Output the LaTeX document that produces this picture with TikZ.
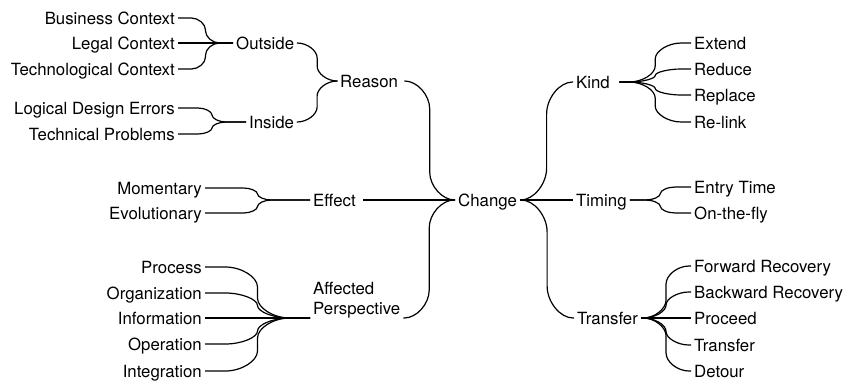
\documentclass[tikz,border=0pt]{standalone}
\usepackage{fontspec}
\setmainfont{TeX Gyre Heros}
\usetikzlibrary{calc}
\begin{document}
\begin{tikzpicture}[x=1pt,y=-1pt,
  every node/.style={font=\fontsize{16.8}{20}\selectfont, inner xsep=3pt, inner ysep=2pt,
                     text height=12pt, text depth=0pt},
  wide/.style={text width=#1, align=left},
  link/.style={line width=1.2pt, line join=round},
  % horizontal run, rounded bend of horizontal reach #1 and vertical reach #2,
  % vertical run through the middle, and back to horizontal
  branch/.style 2 args={to path={
    let \p1=(\tikztostart), \p2=(\tikztotarget),
        \n1={((\x1)+(\x2))/2},
        \n2={#1pt},
        \n3={max(-#2pt,min(#2pt,((\y2)-(\y1))/2))}
    in -- ({\n1-\n2},\y1)
       .. controls ({\n1-0.5*\n2},\y1) and (\n1,{\y1+0.5*\n3}) .. (\n1,{\y1+\n3})
       -- (\n1,{\y2-\n3})
       .. controls (\n1,{\y2-0.5*\n3}) and ({\n1+0.5*\n2},\y2) .. ({\n1+\n2},\y2)
       -- (\tikztotarget) \tikztonodes}}
]
\useasboundingbox (0,0) rectangle (846,381);

% ---- centre ----
\node[anchor=west] (change) at (455,200) {Change};

% ---- left: reason ----
\node[anchor=west, wide=61pt] (reason) at (337,81) {Reason};
\node[anchor=west] (outside) at (233,43) {Outside};
\node[anchor=west] (inside) at (246,122) {Inside};
\node[anchor=east] (bc) at (178,18) {Business Context};
\node[anchor=east] (lc) at (178,43) {Legal Context};
\node[anchor=east] (tc) at (178,69) {Technological Context};
\node[anchor=east] (lde) at (178,108) {Logical Design Errors};
\node[anchor=east] (tp) at (178,134) {Technical Problems};

% ---- left: effect ----
\node[anchor=west, wide=47pt] (effect) at (310,200) {Effect};
\node[anchor=east] (mom) at (205,188) {Momentary};
\node[anchor=east] (evo) at (205,213) {Evolutionary};

% ---- left: affected perspective ----
\node[anchor=west, align=left, text depth=20pt] (ap) at (310,318) {Affected\\Perspective};
\node[anchor=east] (proc) at (205,267) {Process};
\node[anchor=east] (org) at (205,293) {Organization};
\node[anchor=east] (info) at (205,318) {Information};
\node[anchor=east] (oper) at (205,344) {Operation};
\node[anchor=east] (integ) at (205,371) {Integration};

% ---- right: kind ----
\node[anchor=west, wide=40pt] (kind) at (573,82) {Kind};
\node[anchor=west] (extend) at (691,43) {Extend};
\node[anchor=west] (reduce) at (691,69) {Reduce};
\node[anchor=west] (replace) at (691,95) {Replace};
\node[anchor=west] (relink) at (691,122) {Re-link};

% ---- right: timing ----
\node[anchor=west] (timing) at (573,200) {Timing};
\node[anchor=west] (entry) at (691,187) {Entry Time};
\node[anchor=west] (fly) at (691,213) {On-the-fly};

% ---- right: transfer ----
\node[anchor=west] (transfer) at (574,318) {Transfer};
\node[anchor=west] (fwd) at (691,266) {Forward Recovery};
\node[anchor=west] (bwd) at (691,292) {Backward Recovery};
\node[anchor=west] (proceed) at (691,318) {Proceed};
\node[anchor=west] (trans) at (691,345) {Transfer};
\node[anchor=west] (detour) at (691,371) {Detour};

% ---- connectors ----
\begin{scope}[link]
  \draw (bc.east) to[branch={14}{12}] (outside.west);
  \draw (lc.east) to[branch={14}{12}] (outside.west);
  \draw (tc.east) to[branch={14}{12}] (outside.west);
  \draw (lde.east) to[branch={14}{12}] (inside.west);
  \draw (tp.east) to[branch={14}{12}] (inside.west);
  \draw (outside.east) to[branch={20}{15}] (reason.west);
  \draw (inside.east) to[branch={20}{15}] (reason.west);
  \draw (reason.east) to[branch={25}{28}] (change.west);

  \draw (mom.east) to[branch={14}{12}] (effect.west);
  \draw (evo.east) to[branch={14}{12}] (effect.west);
  \draw (effect.east) -- (change.west);

  \draw (proc.east) to[branch={32}{20}] (ap.west);
  \draw (org.east) to[branch={32}{20}] (ap.west);
  \draw (info.east) to[branch={32}{20}] (ap.west);
  \draw (oper.east) to[branch={32}{20}] (ap.west);
  \draw (integ.east) to[branch={32}{20}] (ap.west);
  \draw (ap.east) to[branch={25}{28}] (change.west);

  \draw (change.east) to[branch={26}{32}] (kind.west);
  \draw (change.east) -- (timing.west);
  \draw (change.east) to[branch={26}{32}] (transfer.west);

  \draw (kind.east) to[branch={26}{16}] (extend.west);
  \draw (kind.east) to[branch={26}{16}] (reduce.west);
  \draw (kind.east) to[branch={26}{16}] (replace.west);
  \draw (kind.east) to[branch={26}{16}] (relink.west);

  \draw (timing.east) to[branch={15}{12}] (entry.west);
  \draw (timing.east) to[branch={15}{12}] (fly.west);

  \draw (transfer.east) to[branch={23}{18}] (fwd.west);
  \draw (transfer.east) to[branch={23}{18}] (bwd.west);
  \draw (transfer.east) to[branch={23}{18}] (proceed.west);
  \draw (transfer.east) to[branch={23}{18}] (trans.west);
  \draw (transfer.east) to[branch={23}{18}] (detour.west);
\end{scope}
\end{tikzpicture}
\end{document}
